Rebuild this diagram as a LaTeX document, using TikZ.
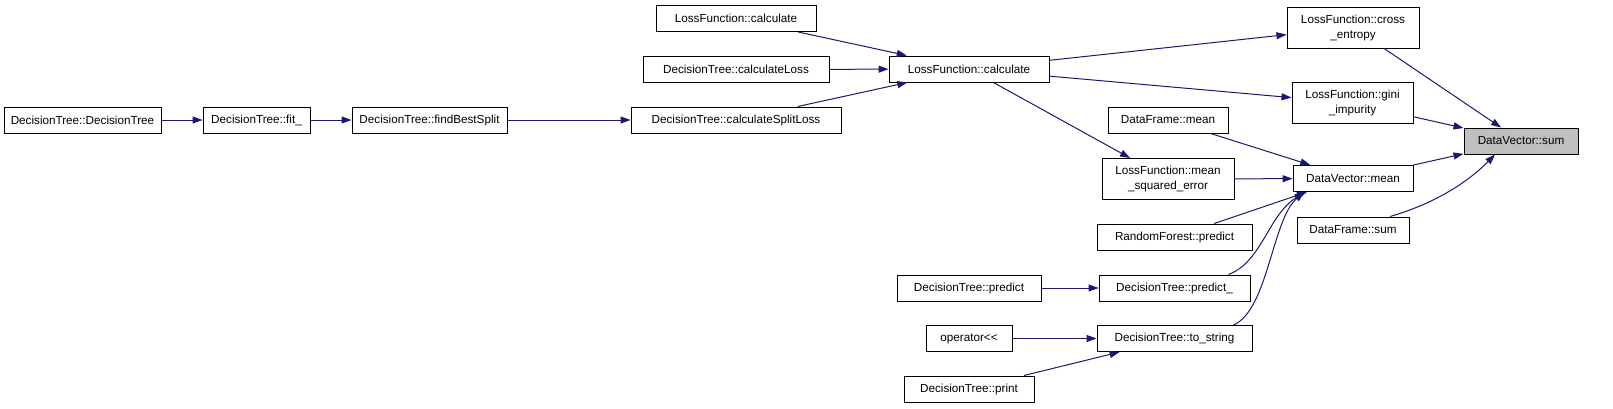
\documentclass[tikz,border=0pt]{standalone}
\usepackage{fontspec}
\setmainfont{Liberation Sans}
\usetikzlibrary{arrows.meta}
\definecolor{navy}{HTML}{191970}
\definecolor{focusgray}{HTML}{BFBFBF}

\begin{document}
\begin{tikzpicture}[x=1pt, y=-1pt, >={Triangle[length=10pt, width=7pt]},
    func/.style={draw=black, fill=white, line width=1pt, inner sep=0pt, minimum height=26,
      align=center, font=\fontsize{11.7}{15}\selectfont},
    func2/.style={func, minimum height=41},
    call/.style={->, draw=navy, line width=1pt}]
    \useasboundingbox (0,0) rectangle (1613,408);
    % callers, left to right
    \node[func, minimum width=157] (dtinit) at (82.5,120) {DecisionTree::DecisionTree};
    \node[func, minimum width=107] (fit) at (256.5,120) {DecisionTree::fit\_};
    \node[func, minimum width=155] (bestsplit) at (429.5,120) {DecisionTree::findBestSplit};
    \node[func, minimum width=160] (lfcalctop) at (736,18.5) {LossFunction::calculate};
    \node[func, minimum width=186] (calcloss) at (736,69.5) {DecisionTree::calculateLoss};
    \node[func, minimum width=210] (splitloss) at (736,120) {DecisionTree::calculateSplitLoss};
    \node[func, minimum width=160] (lfcalc) at (969,69) {LossFunction::calculate};
    \node[func, minimum width=144] (dtpredict) at (969,288) {DecisionTree::predict};
    \node[func, minimum width=86] (oplshift) at (969,338.5) {operator<{}<};
    \node[func, minimum width=130] (dtprint) at (969,389) {DecisionTree::print};
    \node[func, minimum width=120] (dfmean) at (1168,120) {DataFrame::mean};
    \node[func2, minimum width=132] (mse) at (1168,179) {LossFunction::mean\\\_squared\_error};
    \node[func, minimum width=155] (rfpredict) at (1174.5,237) {RandomForest::predict};
    \node[func, minimum width=151] (predict) at (1174.5,288) {DecisionTree::predict\_};
    \node[func, minimum width=155] (tostring) at (1174.5,338.5) {DecisionTree::to\_string};
    \node[func2, minimum width=132] (crossent) at (1353,27.5) {LossFunction::cross\\\_entropy};
    \node[func2, minimum width=121] (gini) at (1352.5,103) {LossFunction::gini\\\_impurity};
    \node[func, minimum width=120] (dvmean) at (1353,178.5) {DataVector::mean};
    \node[func, minimum width=112] (dfsum) at (1353,230) {DataFrame::sum};
    \node[func, fill=focusgray, minimum width=114] (dvsum) at (1521,141) {DataVector::sum};

    \draw[call] (dtinit) -- (fit);
    \draw[call] (fit) -- (bestsplit);
    \draw[call] (bestsplit) -- (splitloss);
    \draw[call] (lfcalctop) -- (lfcalc);
    \draw[call] (calcloss) -- (lfcalc);
    \draw[call] (splitloss) -- (lfcalc);
    \draw[call] (lfcalc) -- (crossent);
    \draw[call] (lfcalc) -- (gini);
    \draw[call] (lfcalc) -- (mse);
    \draw[call] (dtpredict) -- (predict);
    \draw[call] (oplshift) -- (tostring);
    \draw[call] (dtprint) -- (tostring);
    \draw[call] (crossent) -- (dvsum);
    \draw[call] (gini) -- (dvsum);
    \draw[call] (dvmean) -- (dvsum);
    \draw[call] ([xshift=37]dfsum.north) .. controls (1430,205) and (1465,185) .. ([xshift=-26]dvsum.south);
    \draw[call] (dfmean) -- (dvmean);
    \draw[call] (mse) -- (dvmean);
    \draw[call] (rfpredict) -- ([xshift=-46]dvmean.south);
    \draw[call] ([xshift=54]predict.north) .. controls (1262,262) and (1268,215) .. ([xshift=-48]dvmean.south);
    \draw[call] ([xshift=59]tostring.north) .. controls (1268,310) and (1272,220) .. ([xshift=-49]dvmean.south);
\end{tikzpicture}
\end{document}
